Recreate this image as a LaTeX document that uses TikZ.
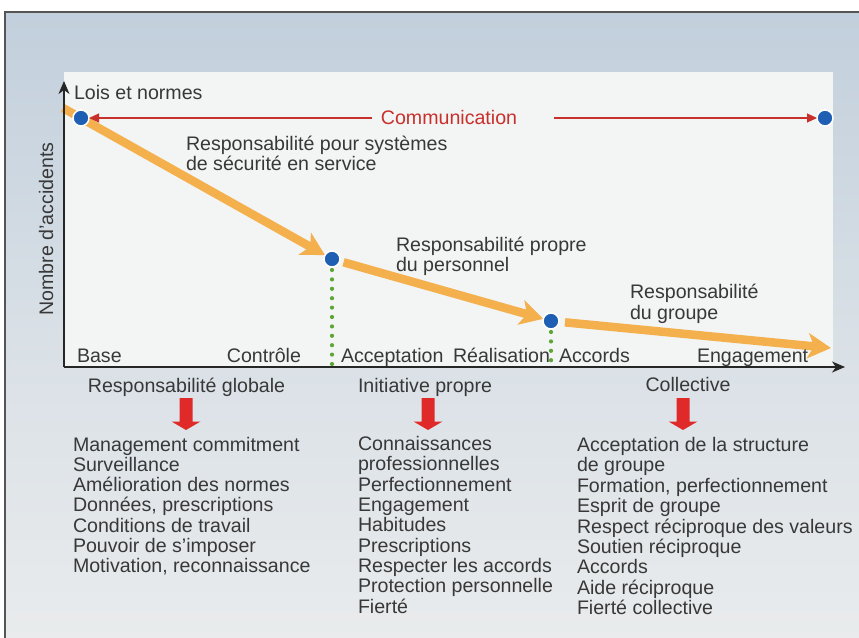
\documentclass[tikz,border=0pt]{standalone}
\usepackage{fontspec}
\setmainfont{Liberation Sans}
\usetikzlibrary{arrows.meta}
\definecolor{txt}{HTML}{383838}
\definecolor{bgtop}{HTML}{C2CFDC}
\definecolor{bgmid}{HTML}{D9E0E6}
\definecolor{bgbot}{HTML}{EAECED}
\definecolor{plotbg}{HTML}{F3F4F4}
\definecolor{orng}{HTML}{F4B04C}
\definecolor{dotblue}{HTML}{1E5FB3}
\definecolor{commred}{HTML}{C8302C}
\definecolor{dotgreen}{HTML}{5DA534}
\definecolor{arrowred}{HTML}{E02A2A}
\definecolor{framegray}{HTML}{555555}
\pgfdeclarelayer{bg}
\pgfdeclarelayer{mid}
\pgfsetlayers{bg,mid,main}
\tikzset{
  every node/.style={inner sep=0pt, outer sep=0pt, text=txt, font=\fontsize{19.6}{20.4}\selectfont},
  lbl/.style={anchor=base west},
  dot/.style={circle, fill=dotblue, draw=white, line width=1.5pt, minimum size=16pt},
  orngarrow/.style={draw=orng, line width=8.5pt, -{Stealth[length=23pt,width=25pt,inset=6pt]}},
  axisline/.style={draw=black!85, line width=1.3pt, -{Stealth[length=13pt,width=11pt,inset=4pt]}},
  commline/.style={draw=commred, line width=1.2pt, -{Triangle[length=10pt,width=9pt]}},
  greendots/.style={draw=dotgreen, line width=4.2pt, line cap=round, dash pattern=on 0pt off 9.4pt},
  downarrow/.pic={\fill[arrowred] (-6.5,0) -- (6.5,0) -- (6.5,23.5) -- (14.5,23.5) -- (0,32) -- (-14.5,23.5) -- (-6.5,23.5) -- cycle;}
}
\begin{document}
\begin{tikzpicture}[x=1pt,y=-1pt]
\useasboundingbox (0,0) rectangle (859,637);
\begin{pgfonlayer}{bg}
  \shade[top color=bgtop, bottom color=bgbot, middle color=bgmid] (5,12) rectangle (880,660);
  \draw[framegray, line width=1.2pt] (5,660) -- (5,12) -- (880,12);
  \fill[plotbg] (64,72) rectangle (833,367);
\end{pgfonlayer}

% dots
\node[dot] (d1) at (81,118) {};
\node[dot] (d2) at (332,259) {};
\node[dot] (d3) at (551,321) {};
\node[dot] (d4) at (825,118) {};

% orange progression arrows
\coordinate (s1) at (63,108);
\coordinate (e3) at (831,348);
\begin{pgfonlayer}{mid}
  \draw[orngarrow] (s1) -- (d2);
  \draw[orngarrow, shorten <=4pt] (d2) -- (d3);
  \draw[orngarrow, shorten <=6pt] (d3) -- (e3);
\end{pgfonlayer}

% axes
\coordinate (O) at (64,367);
\coordinate (ytop) at (64,81);
\coordinate (xend) at (845,367);
\draw[axisline] (O) -- (ytop);
\draw[axisline] (O) -- (xend);

% communication
\node[anchor=base, text=commred] (comm) at (449,124) {Communication};
\coordinate (cl) at (372,118);
\coordinate (cr) at (554,118);
\draw[commline] (cl) -- (d1);
\draw[commline] (cr) -- (d4);

% green dotted lines
\coordinate (g2) at (332,366);
\coordinate (g3) at (551,366);
\draw[greendots, shorten <=3pt] (d2) -- (g2);
\draw[greendots, shorten <=3pt] (d3) -- (g3);

% labels in plot
\node[lbl] (lois) at (74,99) {Lois et normes};
\node[lbl] (r1a) at (186,150) {Responsabilité pour systèmes};
\node[lbl] (r1b) at (186,170) {de sécurité en service};
\node[lbl] (r2a) at (396,251.5) {Responsabilité propre};
\node[lbl] (r2b) at (396,271.5) {du personnel};
\node[lbl] (r3a) at (630,298) {Responsabilité};
\node[lbl] (r3b) at (630,319) {du groupe};
\node[anchor=base, rotate=90] (ylab) at (53,229) {Nombre d’accidents};

% axis labels
\node[lbl] (base) at (77,362.5) {Base};
\node[anchor=base east] (ctrl) at (301,362.5) {Contrôle};
\node[lbl] (acc) at (341,362.5) {Acceptation};
\node[lbl] (real) at (453,362.5) {Réalisation};
\node[lbl] (accords) at (559,362.5) {Accords};
\node[lbl] (eng) at (697,362.5) {Engagement};

% headings
\node[anchor=base] (h1) at (186.5,392) {Responsabilité globale};
\node[lbl] (h2) at (358,392) {Initiative propre};
\node[anchor=base] (h3) at (688,391) {Collective};
\pic at (186,398) {downarrow};
\pic at (428,398) {downarrow};
\pic at (683,398) {downarrow};

% lists
\foreach \t [count=\i from 0] in {Management commitment, Surveillance, Amélioration des normes, {Données, prescriptions}, Conditions de travail, Pouvoir de s’imposer, {Motivation, reconnaissance}}
  \node[lbl] (a\i) at (73,{451+20.3*\i}) {\t};
\foreach \t [count=\i from 0] in {Connaissances, professionnelles, Perfectionnement, Engagement, Habitudes, Prescriptions, Respecter les accords, Protection personnelle, Fierté}
  \node[lbl] (b\i) at (358,{450.5+20.35*\i}) {\t};
\foreach \t [count=\i from 0] in {Acceptation de la structure, de groupe, {Formation, perfectionnement}, Esprit de groupe, Respect réciproque des valeurs, Soutien réciproque, Accords, Aide réciproque, Fierté collective}
  \node[lbl] (c\i) at (577,{451.5+20.4*\i}) {\t};
\end{tikzpicture}
\end{document}
